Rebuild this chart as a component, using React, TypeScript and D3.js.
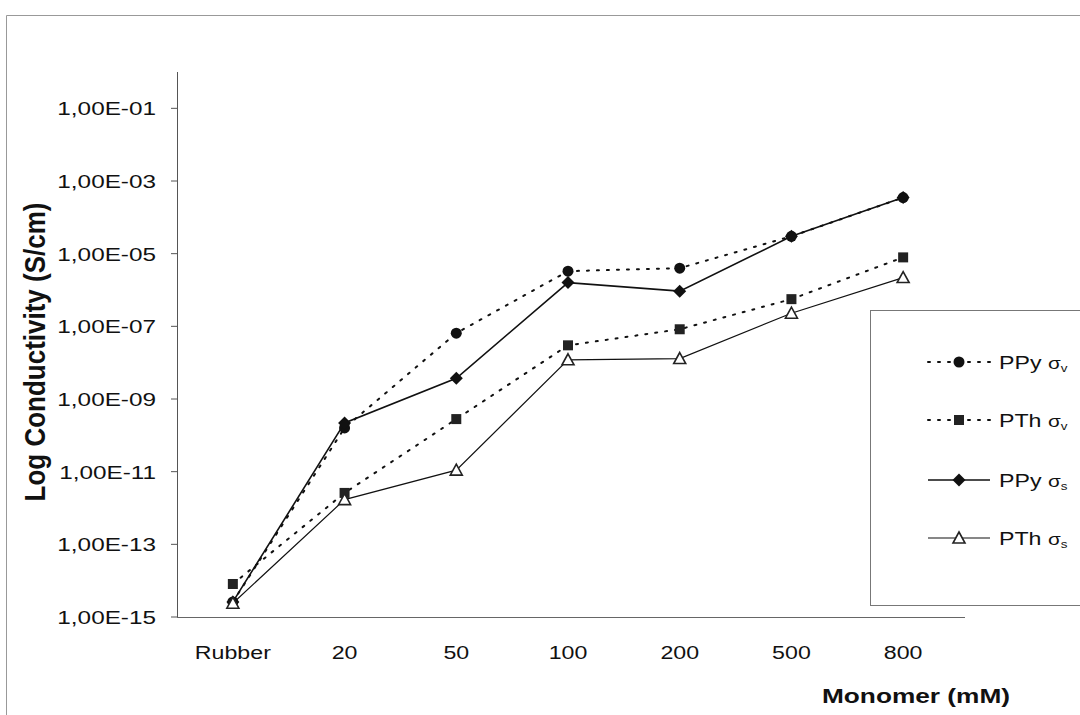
import React from "react";
import * as d3 from "d3";

const categories = ["Rubber", "20", "50", "100", "200", "500", "800"];
const yTickValues = [1e-1, 1e-3, 1e-5, 1e-7, 1e-9, 1e-11, 1e-13, 1e-15];
const yTickLabels = ["1,00E-01", "1,00E-03", "1,00E-05", "1,00E-07", "1,00E-09", "1,00E-11", "1,00E-13", "1,00E-15"];

const ppySigmaV = [2.6e-15, 1.6e-10, 6.5e-8, 3.3e-6, 4.0e-6, 3.0e-5, 3.5e-4];
const pthSigmaV = [8.1e-15, 2.6e-12, 2.8e-10, 3.0e-8, 8.3e-8, 5.6e-7, 7.9e-6];
const ppySigmaS = [2.6e-15, 2.2e-10, 3.7e-9, 1.6e-6, 9.3e-7, 3.0e-5, 3.5e-4];
const pthSigmaS = [2.4e-15, 1.7e-12, 1.1e-11, 1.2e-8, 1.3e-8, 2.3e-7, 2.2e-6];

const seriesNames = ["PPy", "PTh", "PPy", "PTh"];
const seriesSubs = ["v", "v", "s", "s"];

type Marker = "circle" | "square" | "diamond" | "triangle";
const seriesList: { values: number[]; marker: Marker; dash: string | null; width: number }[] = [
  { values: ppySigmaV, marker: "circle", dash: "2,8", width: 2 },
  { values: pthSigmaV, marker: "square", dash: "2,8", width: 2 },
  { values: ppySigmaS, marker: "diamond", dash: null, width: 1.6 },
  { values: pthSigmaS, marker: "triangle", dash: null, width: 1.2 },
];

const FONT = "'Liberation Sans', Arial, sans-serif";

function MarkerShape({ type, x, y }: { type: Marker; x: number; y: number }) {
  if (type === "circle") return <circle cx={x} cy={y} r={5.5} fill="#111" />;
  if (type === "square") return <rect x={x - 5} y={y - 5} width={10} height={10} fill="#222" />;
  if (type === "diamond")
    return <path d={`M${x},${y - 6.5}L${x + 6.5},${y}L${x},${y + 6.5}L${x - 6.5},${y}Z`} fill="#111" />;
  return (
    <path
      d={`M${x},${y - 6}L${x + 6},${y + 5}L${x - 6},${y + 5}Z`}
      fill="#fff"
      stroke="#222"
      strokeWidth={1.6}
    />
  );
}

function SText({ x, y, anchor, size, bold, sx = 1.22, children }: any) {
  return (
    <g transform={`translate(${x},${y}) scale(${sx},1)`}>
      <text
        x={0}
        y={0}
        textAnchor={anchor}
        fontSize={size}
        fontWeight={bold ? "bold" : "normal"}
        fontFamily={FONT}
        fill="#111"
      >
        {children}
      </text>
    </g>
  );
}

export default function App() {
  const W = 1080;
  const H = 715;
  const x = d3.scaleBand<string>().domain(categories).range([177, 959]);
  const y = d3.scaleLog().domain([1e-15, 1]).range([617, 72]);
  const cx = (c: string) => (x(c) as number) + x.bandwidth() / 2;

  const line = d3
    .line<number>()
    .x((_, i) => cx(categories[i]))
    .y((v) => y(v));

  const legendRows = [362, 420, 480, 538];

  return (
    <svg width={W} height={H} style={{ position: "absolute", left: 0, top: 0 }}>
      <rect x={0} y={0} width={W} height={H} fill="#fff" />
      {/* outer frame */}
      <path d={`M6.5,${H}V15.5H${W}`} fill="none" stroke="#999" strokeWidth={1} />

      {/* axes */}
      <line x1={177.5} y1={72} x2={177.5} y2={617.5} stroke="#555" strokeWidth={1} />
      <line x1={177} y1={617.5} x2={965} y2={617.5} stroke="#666" strokeWidth={1} />
      {yTickValues.map((v, i) => (
        <g key={i}>
          <line x1={171} x2={177} y1={y(v)} y2={y(v)} stroke="#555" />
          <SText x={156} y={y(v) + 7} anchor="end" size={19} sx={1.28}>
            {yTickLabels[i]}
          </SText>
        </g>
      ))}
      {categories.map((c) => (
        <SText key={c} x={cx(c)} y={659} anchor="middle" size={19}>
          {c}
        </SText>
      ))}

      {/* series */}
      {seriesList.map((s, si) => (
        <g key={si}>
          <path
            d={line(s.values) as string}
            fill="none"
            stroke="#111"
            strokeWidth={s.width}
            strokeDasharray={s.dash ?? undefined}
            strokeLinecap={s.dash ? "round" : "butt"}
          />
          {s.values.map((v, i) => (
            <MarkerShape key={i} type={s.marker} x={cx(categories[i])} y={y(v)} />
          ))}
        </g>
      ))}

      {/* axis titles */}
      <g transform={`translate(45,352) rotate(-90) scale(1,1.1)`}>
        <text x={0} y={0} textAnchor="middle" fontSize={26} fontWeight="bold" fontFamily={FONT} fill="#111">
          Log Conductivity (S/cm)
        </text>
      </g>
      <SText x={916} y={703} anchor="middle" size={21} sx={1.25} bold>
        Monomer (mM)
      </SText>

      {/* legend */}
      <rect x={870.5} y={310.5} width={230} height={295} fill="#fff" stroke="#777" strokeWidth={1} />
      {seriesList.map((s, i) => (
        <g key={i}>
          <line
            x1={928}
            x2={990}
            y1={legendRows[i]}
            y2={legendRows[i]}
            stroke="#111"
            strokeWidth={s.width}
            strokeDasharray={s.dash ?? undefined}
            strokeLinecap={s.dash ? "round" : "butt"}
          />
          <MarkerShape type={s.marker} x={959} y={legendRows[i]} />
          <SText x={999} y={legendRows[i] + 7} anchor="start" size={19}>
            {seriesNames[i]}
          </SText>
          <SText x={1048} y={legendRows[i] + 7} anchor="start" size={17}>
            σ<tspan fontSize={11} dy={3}>{seriesSubs[i]}</tspan>
          </SText>
        </g>
      ))}
    </svg>
  );
}
